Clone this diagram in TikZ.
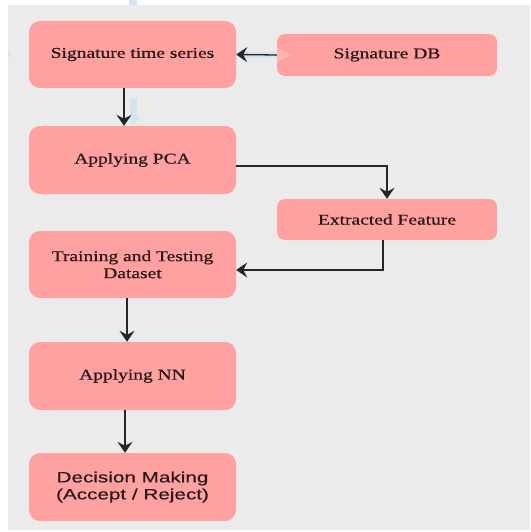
\documentclass[tikz,border=0pt]{standalone}
\usepackage{fontspec}
\setmainfont{Liberation Serif}[FakeStretch=1.3,FakeBold=0.6]
\newfontfamily\dmfont{Liberation Sans}[FakeStretch=1.38,FakeBold=0.4]
\usetikzlibrary{arrows.meta}
\definecolor{bgray}{HTML}{EBEBEB}
\definecolor{boxpink}{HTML}{FFA1A1}
\definecolor{txtdark}{HTML}{2A1818}
\definecolor{ghost}{HTML}{D3E3EF}
\tikzset{
  big/.style={rectangle, rounded corners=11pt, fill=boxpink, draw=none,
    minimum width=207pt, minimum height=67pt, text=txtdark, align=center,
    font=\fontsize{15}{17}\selectfont, inner sep=0pt},
  small/.style={big, rounded corners=8pt, minimum width=220pt, minimum height=42pt},
  conn/.style={draw=black!85, line width=1.3pt, -{Stealth[length=11pt,width=15pt,inset=4pt]}},
  ghostline/.style={draw=ghost, line width=7pt}
}
\begin{document}
\begin{tikzpicture}[x=1pt,y=-1pt]
\useasboundingbox (0,0) rectangle (530,532);
\fill[white] (0,0) rectangle (530,532);
\fill[bgray] (8,5) rectangle (530,530);
% faint ghost marks
\fill[ghost] (129,0) rectangle (137,5);
\fill[ghost] (8,50) rectangle (10,57);
\draw[ghostline] (133,98) -- (133,118);
\fill[ghost] (126,116) -- (140,116) -- (133,126) -- cycle;
\draw[ghost, line width=6pt] (246,55) -- (282,55);

\node[big] (ts) at (132.5,54.5) {Signature time series};
\node[small] (db) at (387,55) {Signature DB};
\fill[boxpink!80!white] (277,48) -- (293,55) -- (277,62) -- cycle;
\node[big, minimum height=68pt] (pca) at (132.5,160) {Applying PCA};
\node[small, minimum height=41pt] (ef) at (387,219.5) {Extracted Feature};
\node[big] (tr) at (132.5,264.5) {Training and Testing\\Dataset};
\node[big, minimum height=68pt] (nn) at (132.5,376) {Applying NN};
\node[big, minimum height=68pt, font=\dmfont\fontsize{15}{17}\selectfont] (dm) at (132.5,487) {Decision Making\\(Accept / Reject)};

\draw[conn] ([xshift=-8.5pt]ts.south) -- ([xshift=-8.5pt]pca.north);
\draw[conn] (db.west) -- (ts.east);
\draw[conn] ([yshift=-6pt]pca.east) -| (ef.north);
\draw[conn] ([xshift=-4pt]ef.south) |- ([yshift=-5.5pt]tr.east);
\draw[conn] ([xshift=-5.5pt]tr.south) -- ([xshift=-5.5pt]nn.north);
\draw[conn] ([xshift=-7.5pt]nn.south) -- ([xshift=-7.5pt]dm.north);
\end{tikzpicture}
\end{document}
